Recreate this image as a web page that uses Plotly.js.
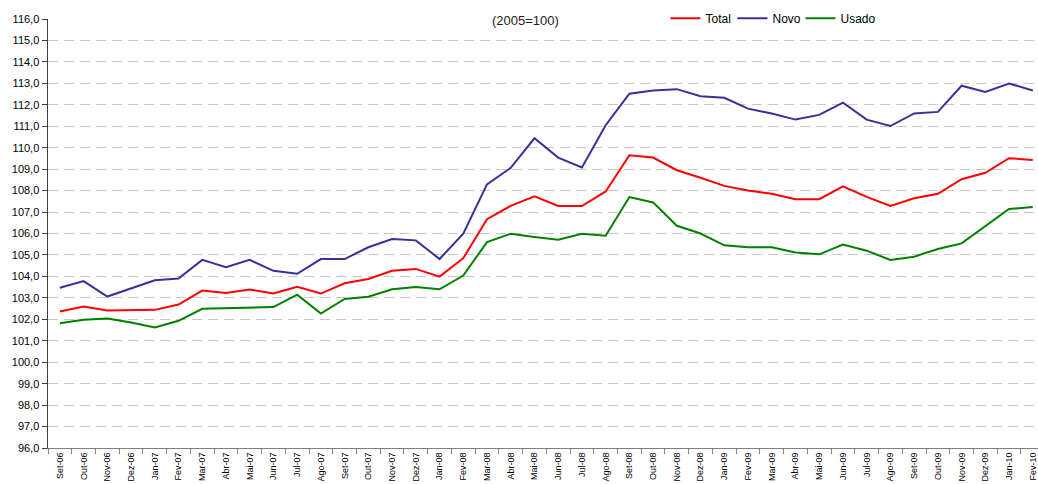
<!DOCTYPE html>
<html>
<head>
<meta charset="utf-8">
<script src="https://cdn.plot.ly/plotly-3.0.1.min.js"></script>
<style>
  html, body { margin: 0; padding: 0; background: #ffffff; }
  #chart { width: 1038px; height: 484px; }
</style>
</head>
<body>
<div id="chart"></div>
<script>
const months = ["Set-06","Out-06","Nov-06","Dez-06","Jan-07","Fev-07","Mar-07","Abr-07","Mai-07","Jun-07","Jul-07","Ago-07","Set-07","Out-07","Nov-07","Dez-07","Jan-08","Fev-08","Mar-08","Abr-08","Mai-08","Jun-08","Jul-08","Ago-08","Set-08","Out-08","Nov-08","Dez-08","Jan-09","Fev-09","Mar-09","Abr-09","Mai-09","Jun-09","Jul-09","Ago-09","Set-09","Out-09","Nov-09","Dez-09","Jan-10","Fev-10"];

const total = [102.36, 102.60, 102.41, 102.42, 102.44, 102.69, 103.34, 103.23, 103.39, 103.20, 103.51, 103.20, 103.68, 103.88, 104.26, 104.35, 103.99, 104.85, 106.67, 107.29, 107.73, 107.28, 107.28, 107.96, 109.65, 109.54, 108.95, 108.60, 108.22, 108.01, 107.85, 107.60, 107.60, 108.20, 107.71, 107.29, 107.64, 107.85, 108.53, 108.83, 109.51, 109.43];

const novo = [103.47, 103.78, 103.06, 103.44, 103.82, 103.90, 104.77, 104.43, 104.77, 104.26, 104.12, 104.81, 104.81, 105.36, 105.74, 105.68, 104.81, 105.99, 108.29, 109.06, 110.44, 109.54, 109.08, 111.05, 112.52, 112.67, 112.73, 112.40, 112.33, 111.82, 111.59, 111.31, 111.53, 112.10, 111.31, 111.01, 111.60, 111.67, 112.89, 112.60, 112.99, 112.67];

const usado = [101.82, 101.98, 102.04, 101.85, 101.62, 101.93, 102.49, 102.52, 102.55, 102.57, 103.15, 102.27, 102.95, 103.05, 103.40, 103.51, 103.40, 104.04, 105.60, 105.99, 105.84, 105.71, 105.99, 105.90, 107.70, 107.45, 106.36, 106.00, 105.45, 105.36, 105.36, 105.11, 105.03, 105.48, 105.20, 104.77, 104.92, 105.28, 105.54, 106.32, 107.14, 107.23];

const seriesNames = ["Total", "Novo", "Usado"];
const subtitle = "(2005=100)";

const font = "Liberation Sans, Arial, sans-serif";

const traces = [
  {x: months, y: total, name: seriesNames[0], type: "scatter", mode: "lines",
   line: {color: "#ff0000", width: 2}, legend: "legend"},
  {x: months, y: novo, name: seriesNames[1], type: "scatter", mode: "lines",
   line: {color: "#333399", width: 2}, legend: "legend2"},
  {x: months, y: usado, name: seriesNames[2], type: "scatter", mode: "lines",
   line: {color: "#008000", width: 2}, legend: "legend3"}
];

function legendAt(x) {
  return {
    orientation: "h",
    x: x, xanchor: "left",
    y: 1.002, yanchor: "middle",
    bgcolor: "rgba(0,0,0,0)",
    font: {family: font, size: 12, color: "#000000"},
    itemwidth: 30
  };
}

const layout = {
  width: 1038,
  height: 484,
  margin: {l: 48, r: 0, t: 18.5, b: 35.5, pad: 0},
  paper_bgcolor: "#ffffff",
  plot_bgcolor: "#ffffff",
  font: {family: font, color: "#000000", size: 11},
  separators: ",.",
  showlegend: true,
  legend: legendAt(0.6237),
  legend2: legendAt(0.6914),
  legend3: legendAt(0.7601),
  xaxis: {
    type: "category",
    range: [-0.5, 41.22],
    tickson: "boundaries",
    ticks: "outside",
    ticklen: 5,
    tickcolor: "#808080",
    tickangle: -90,
    tickfont: {family: font, size: 9, color: "#000000"},
    showline: true,
    linecolor: "#808080",
    linewidth: 1,
    showgrid: false,
    zeroline: false,
    fixedrange: true
  },
  yaxis: {
    range: [96, 116],
    tick0: 96,
    dtick: 1,
    tickformat: ".1f",
    ticks: "outside",
    ticklen: 5,
    tickcolor: "#404040",
    tickfont: {family: font, size: 11, color: "#000000"},
    showline: true,
    linecolor: "#404040",
    linewidth: 1.5,
    showgrid: true,
    gridcolor: "#c8c8c8",
    gridwidth: 1,
    griddash: "10px,6px",
    zeroline: false,
    fixedrange: true
  },
  annotations: [
    {text: subtitle, xref: "paper", yref: "paper", x: 0.482, y: 0.997,
     xanchor: "center", yanchor: "middle", showarrow: false,
     font: {family: font, size: 13, color: "#222222"}}
  ]
};

Plotly.newPlot("chart", traces, layout, {displayModeBar: false, staticPlot: true});
</script>
</body>
</html>
